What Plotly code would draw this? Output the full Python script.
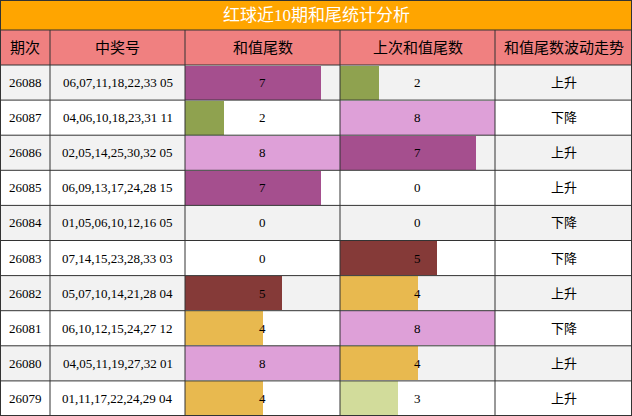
import plotly.graph_objects as go

title = "红球近10期和尾统计分析"
headers = ["期次", "中奖号", "和值尾数", "上次和值尾数", "和值尾数波动走势"]
periods = ["26088","26087","26086","26085","26084","26083","26082","26081","26080","26079"]
numbers = ["06,07,11,18,22,33 05","04,06,10,18,23,31 11","02,05,14,25,30,32 05",
           "06,09,13,17,24,28 15","01,05,06,10,12,16 05","07,14,15,23,28,33 03",
           "05,07,10,14,21,28 04","06,10,12,15,24,27 12","04,05,11,19,27,32 01",
           "01,11,17,22,24,29 04"]
tail = [7,2,8,7,0,0,5,4,8,4]
prev_tail = [2,8,7,0,0,5,4,8,4,3]
trend = ["上升","下降","上升","上升","下降","下降","上升","下降","上升","上升"]

colors = {0:"#ffffff",2:"#8fa24f",3:"#d2dc9b",4:"#e8b94f",5:"#853a38",7:"#a54f8e",8:"#dea0d8"}

W, H = 632, 416
cols = [0, 50, 185, 340, 495, 632]
top_head, top_rows = 30, 65
rh = (H - top_rows) / len(periods)
FONT = "Liberation Serif, Noto Sans CJK SC"

fig = go.Figure()
shapes = []
shapes.append(dict(type="rect", x0=0, x1=W, y0=0, y1=top_head, fillcolor="#ffa500", line_width=0, layer="below"))
shapes.append(dict(type="rect", x0=0, x1=W, y0=top_head, y1=top_rows, fillcolor="#f08080", line_width=0, layer="below"))
for i in range(len(periods)):
    y0 = top_rows + i * rh
    shapes.append(dict(type="rect", x0=0, x1=W, y0=y0, y1=y0 + rh,
                       fillcolor="#f2f2f2" if i % 2 == 0 else "#ffffff", line_width=0, layer="below"))
ycent = [top_rows + (i + 0.5) * rh for i in range(len(periods))]

maxv = 8
for ci, vals in ((2, tail), (3, prev_tail)):
    w = cols[ci + 1] - cols[ci]
    fig.add_trace(go.Bar(orientation="h", y=ycent, x=[v / maxv * w for v in vals], base=cols[ci],
                         width=rh - 1, marker=dict(color=[colors[v] for v in vals], line_width=0),
                         hoverinfo="skip", showlegend=False))

for i in range(len(periods) + 1):
    y = min(top_rows + i * rh, H - 0.5)
    shapes.append(dict(type="line", x0=0, x1=W, y0=y, y1=y, line=dict(color="#333", width=1), layer="above"))
shapes.append(dict(type="line", x0=0, x1=W, y0=top_head, y1=top_head, line=dict(color="#333", width=1)))
for x in cols:
    xx = min(max(x, 0.5), W - 0.5)
    shapes.append(dict(type="line", x0=xx, x1=xx, y0=top_head, y1=H, line=dict(color="#333", width=1)))
shapes.append(dict(type="line", x0=0.5, x1=0.5, y0=0, y1=top_head, line=dict(color="#333", width=1)))
shapes.append(dict(type="line", x0=W-0.5, x1=W-0.5, y0=0, y1=top_head, line=dict(color="#333", width=1)))
shapes.append(dict(type="line", x0=0, x1=W, y0=0.5, y1=0.5, line=dict(color="#333", width=1)))

ann = [dict(x=W / 2, y=top_head / 2, text=title, showarrow=False, font=dict(size=17, color="white", family=FONT))]
for k, h in enumerate(headers):
    ann.append(dict(x=(cols[k] + cols[k + 1]) / 2, y=(top_head + top_rows) / 2, text=h, showarrow=False,
                    font=dict(size=15, color="black", family=FONT)))
cells = [periods, numbers, [str(v) for v in tail], [str(v) for v in prev_tail], trend]
for k, col in enumerate(cells):
    for i, t in enumerate(col):
        ann.append(dict(x=(cols[k] + cols[k + 1]) / 2, y=ycent[i], text=t, showarrow=False,
                        font=dict(size=13, color="black", family=FONT)))

fig.update_layout(width=W, height=H, margin=dict(l=0, r=0, t=0, b=0), barmode="overlay",
                  plot_bgcolor="white", paper_bgcolor="white", shapes=shapes, annotations=ann,
                  xaxis=dict(range=[0, W], visible=False, fixedrange=True),
                  yaxis=dict(range=[H, 0], visible=False, fixedrange=True), bargap=0)
fig.write_html("out.html", config={"displayModeBar": False},
               post_script="document.body.style.margin='0';document.body.style.overflow='hidden';")
